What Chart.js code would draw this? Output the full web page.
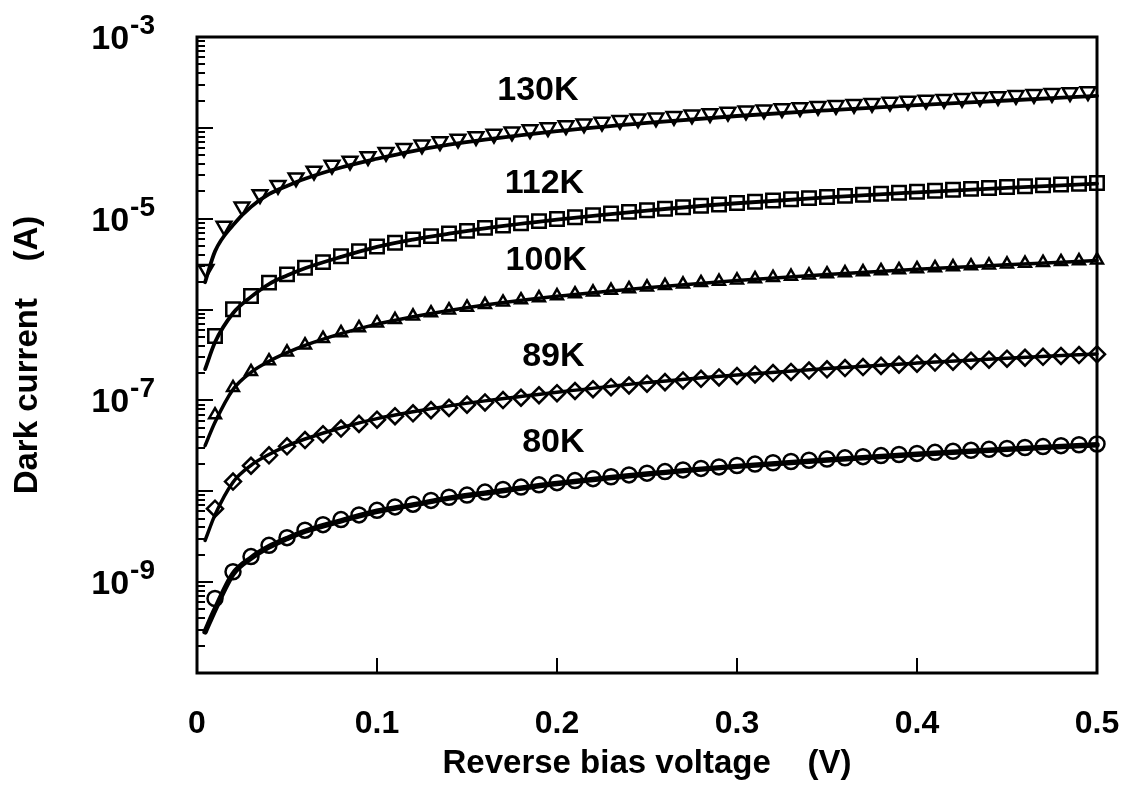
<!DOCTYPE html>
<html>
<head>
<meta charset="utf-8">
<script src="https://cdn.jsdelivr.net/npm/chart.js@4.4.1/dist/chart.umd.min.js"></script>
<style>
html,body{margin:0;padding:0;background:#fff;}
canvas{display:block;}
</style>
</head>
<body>
<canvas id="c" width="1129" height="788"></canvas>
<script>
// ---------------- data ----------------
const voltage130K = [0.005,0.015,0.025,0.035,0.045,0.055,0.065,0.075,0.085,0.095,
  0.105,0.115,0.125,0.135,0.145,0.155,0.165,0.175,0.185,0.195,
  0.205,0.215,0.225,0.235,0.245,0.255,0.265,0.275,0.285,0.295,
  0.305,0.315,0.325,0.335,0.345,0.355,0.365,0.375,0.385,0.395,
  0.405,0.415,0.425,0.435,0.445,0.455,0.465,0.475,0.485,0.495];
const voltage = [0.01,0.02,0.03,0.04,0.05,0.06,0.07,0.08,0.09,0.10,
  0.11,0.12,0.13,0.14,0.15,0.16,0.17,0.18,0.19,0.20,
  0.21,0.22,0.23,0.24,0.25,0.26,0.27,0.28,0.29,0.30,
  0.31,0.32,0.33,0.34,0.35,0.36,0.37,0.38,0.39,0.40,
  0.41,0.42,0.43,0.44,0.45,0.46,0.47,0.48,0.49,0.50];
const fitVoltage = [0.0045,0.01,0.02,0.03,0.04,0.05,0.06,0.08,0.10,0.12,0.14,0.16,0.20,0.25,0.30,0.35,0.40,0.45,0.50];

const current130K = [2.78e-6,8.3e-6,1.35e-5,1.85e-5,2.34e-5,2.83e-5,3.36e-5,3.90e-5,4.33e-5,4.84e-5,
  5.40e-5,5.95e-5,6.51e-5,7.06e-5,7.56e-5,8.05e-5,8.55e-5,9.06e-5,9.57e-5,1.007e-4,
  1.06e-4,1.11e-4,1.16e-4,1.21e-4,1.26e-4,1.29e-4,1.34e-4,1.39e-4,1.44e-4,1.49e-4,
  1.54e-4,1.58e-4,1.63e-4,1.68e-4,1.73e-4,1.77e-4,1.82e-4,1.87e-4,1.92e-4,1.97e-4,
  2.02e-4,2.07e-4,2.12e-4,2.17e-4,2.22e-4,2.28e-4,2.34e-4,2.40e-4,2.45e-4,2.51e-4];
const current112K = [5.13e-7,1.007e-6,1.41e-6,1.98e-6,2.44e-6,2.89e-6,3.33e-6,3.87e-6,4.40e-6,4.95e-6,
  5.43e-6,5.92e-6,6.43e-6,6.89e-6,7.35e-6,7.93e-6,8.42e-6,8.92e-6,9.41e-6,9.91e-6,
  1.040e-5,1.090e-5,1.139e-5,1.189e-5,1.239e-5,1.288e-5,1.338e-5,1.387e-5,1.437e-5,1.486e-5,
  1.536e-5,1.585e-5,1.635e-5,1.684e-5,1.734e-5,1.783e-5,1.833e-5,1.883e-5,1.932e-5,1.982e-5,
  2.031e-5,2.081e-5,2.130e-5,2.180e-5,2.229e-5,2.279e-5,2.328e-5,2.378e-5,2.427e-5,2.477e-5];
const current100K = [6.92e-8,1.38e-7,2.07e-7,2.72e-7,3.40e-7,4.07e-7,4.80e-7,5.56e-7,6.31e-7,7.11e-7,
  7.76e-7,8.47e-7,9.18e-7,9.89e-7,1.06e-6,1.135e-6,1.206e-6,1.276e-6,1.346e-6,1.416e-6,
  1.486e-6,1.556e-6,1.626e-6,1.694e-6,1.766e-6,1.837e-6,1.905e-6,1.977e-6,2.046e-6,2.113e-6,
  2.183e-6,2.254e-6,2.323e-6,2.393e-6,2.466e-6,2.535e-6,2.600e-6,2.673e-6,2.742e-6,2.812e-6,
  2.884e-6,2.951e-6,3.020e-6,3.090e-6,3.162e-6,3.228e-6,3.296e-6,3.365e-6,3.436e-6,3.508e-6];
const current89K = [6.43e-9,1.28e-8,1.91e-8,2.49e-8,3.13e-8,3.66e-8,4.25e-8,4.90e-8,5.52e-8,6.14e-8,
  6.71e-8,7.21e-8,7.82e-8,8.28e-8,8.99e-8,9.51e-8,1.01e-7,1.07e-7,1.14e-7,1.20e-7,
  1.27e-7,1.33e-7,1.40e-7,1.46e-7,1.53e-7,1.59e-7,1.66e-7,1.73e-7,1.79e-7,1.86e-7,
  1.93e-7,2.00e-7,2.06e-7,2.13e-7,2.20e-7,2.27e-7,2.33e-7,2.40e-7,2.47e-7,2.54e-7,
  2.61e-7,2.67e-7,2.74e-7,2.81e-7,2.88e-7,2.95e-7,3.02e-7,3.09e-7,3.16e-7,3.23e-7];
const current80K = [6.61e-10,1.30e-9,1.91e-9,2.54e-9,3.09e-9,3.73e-9,4.29e-9,4.88e-9,5.50e-9,6.17e-9,
  6.73e-9,7.21e-9,7.94e-9,8.59e-9,9.08e-9,9.79e-9,1.047e-8,1.112e-8,1.178e-8,1.245e-8,
  1.312e-8,1.378e-8,1.445e-8,1.514e-8,1.582e-8,1.648e-8,1.718e-8,1.786e-8,1.854e-8,1.923e-8,
  1.991e-8,2.061e-8,2.128e-8,2.198e-8,2.265e-8,2.333e-8,2.404e-8,2.472e-8,2.541e-8,2.612e-8,
  2.685e-8,2.754e-8,2.825e-8,2.897e-8,2.965e-8,3.034e-8,3.105e-8,3.177e-8,3.251e-8,3.319e-8];

const fit130K = [2.0e-6,4.37e-6,8.5e-6,1.35e-5,1.86e-5,2.29e-5,2.75e-5,3.66e-5,4.57e-5,5.56e-5,6.52e-5,7.40e-5,9.2e-5,1.135e-4,1.35e-4,1.56e-4,1.78e-4,2.0e-4,2.25e-4];
const fit112K = [2.21e-7,4.37e-7,9.12e-7,1.38e-6,1.91e-6,2.37e-6,2.85e-6,3.80e-6,4.90e-6,5.89e-6,6.84e-6,7.85e-6,9.77e-6,1.23e-5,1.48e-5,1.72e-5,1.95e-5,2.19e-5,2.43e-5];
const fit100K = [3.18e-8,5.75e-8,1.32e-7,2.04e-7,2.69e-7,3.35e-7,4.03e-7,5.43e-7,6.92e-7,8.32e-7,9.77e-7,1.122e-6,1.40e-6,1.74e-6,2.09e-6,2.43e-6,2.77e-6,3.11e-6,3.47e-6];
const fit89K = [2.88e-9,5.5e-9,1.26e-8,1.93e-8,2.54e-8,3.16e-8,3.76e-8,5.01e-8,6.31e-8,7.50e-8,8.71e-8,9.89e-8,1.23e-7,1.57e-7,1.91e-7,2.25e-7,2.58e-7,2.92e-7,3.25e-7];
const fit80K = [2.84e-10,5.0e-10,1.23e-9,1.84e-9,2.45e-9,3.02e-9,3.63e-9,4.73e-9,6.03e-9,7.08e-9,8.41e-9,9.55e-9,1.216e-8,1.55e-8,1.88e-8,2.21e-8,2.55e-8,2.90e-8,3.25e-8];

const temperatures = ['130K','112K','100K','89K','80K'];
const xTickValues = [0, 0.1, 0.2, 0.3, 0.4, 0.5];
const yLabelExponents = [-3, -5, -7, -9];
const yRange = [1e-10, 1e-3];

// ---------------- chart ----------------
const FONT = "'Liberation Sans', Arial, Helvetica, sans-serif";

const seriesDefs = [
  {name: temperatures[0], xs: voltage130K, ys: current130K, fit: fit130K, style: 'triangle', rot: 180, r: 8.5, lw: 3.8, lx: 0.1894, ly: 2.55e-4},
  {name: temperatures[1], xs: voltage, ys: current112K, fit: fit112K, style: 'rect', rot: 0, r: 9.5, lw: 3.8, lx: 0.193, ly: 2.43e-5},
  {name: temperatures[2], xs: voltage, ys: current100K, fit: fit100K, style: 'triangle', rot: 0, r: 6.8, lw: 3.5, lx: 0.194, ly: 3.48e-6},
  {name: temperatures[3], xs: voltage, ys: current89K, fit: fit89K, style: 'rectRot', rot: 0, r: 8, lw: 3.5, lx: 0.198, ly: 3.03e-7},
  {name: temperatures[4], xs: voltage, ys: current80K, fit: fit80K, style: 'circle', rot: 0, r: 7.5, lw: 5.5, lx: 0.198, ly: 3.40e-8}
];

const datasets = [];
seriesDefs.forEach(s => {
  datasets.push({
    label: s.name,
    data: s.xs.map((v, i) => ({x: v, y: s.ys[i]})),
    showLine: false,
    pointStyle: s.style,
    pointRotation: s.rot,
    pointRadius: s.r,
    pointHoverRadius: s.r,
    pointBorderWidth: 2.5,
    pointBorderColor: '#000',
    pointBackgroundColor: 'rgba(0,0,0,0)',
    borderColor: '#000',
    clip: false,
    order: 2
  });
  datasets.push({
    label: s.name + ' fit',
    data: fitVoltage.map((v, i) => ({x: v, y: s.fit[i]})),
    showLine: true,
    pointRadius: 0,
    borderColor: '#000',
    borderWidth: s.lw,
    borderCapStyle: 'round',
    borderJoinStyle: 'round',
    cubicInterpolationMode: 'monotone',
    fill: false,
    clip: false,
    order: 1
  });
});

const framePlugin = {
  id: 'framePlugin',
  afterDraw(chart) {
    const {ctx, chartArea: a, scales: {x, y}} = chart;
    ctx.save();
    ctx.strokeStyle = '#000';
    ctx.lineCap = 'butt';
    // y minor/major ticks (inside, left)
    ctx.lineWidth = 2;
    for (let e = -10; e < -3; e++) {
      for (let n = 1; n <= 9; n++) {
        const py = Math.round(y.getPixelForValue(n * Math.pow(10, e)));
        const len = n === 1 ? 16 : 8;
        ctx.beginPath();
        ctx.moveTo(a.left, py);
        ctx.lineTo(a.left + len, py);
        ctx.stroke();
      }
    }
    // x ticks (inside, bottom)
    xTickValues.forEach(v => {
      if (v <= 0 || v >= 0.5) return;
      const px = Math.round(x.getPixelForValue(v));
      ctx.beginPath();
      ctx.moveTo(px, a.bottom);
      ctx.lineTo(px, a.bottom - 15);
      ctx.stroke();
    });
    // frame
    ctx.lineWidth = 3;
    ctx.strokeRect(a.left, a.top, a.right - a.left, a.bottom - a.top);
    // y tick labels with superscripts
    ctx.fillStyle = '#000';
    ctx.textAlign = 'right';
    ctx.textBaseline = 'alphabetic';
    const right = a.left - 42;
    yLabelExponents.forEach(e => {
      const py = y.getPixelForValue(Math.pow(10, e));
      const sup = String(e);
      ctx.font = `bold 28px ${FONT}`;
      const supW = ctx.measureText(sup).width;
      ctx.fillText(sup, right, py - 3);
      ctx.font = `bold 34px ${FONT}`;
      ctx.fillText('10', right - supW - 1, py + 12);
    });
    // temperature labels
    ctx.textAlign = 'center';
    ctx.textBaseline = 'middle';
    ctx.font = `bold 34px ${FONT}`;
    seriesDefs.forEach(s => {
      ctx.fillText(s.name, x.getPixelForValue(s.lx), y.getPixelForValue(s.ly));
    });
    ctx.restore();
  }
};

new Chart(document.getElementById('c'), {
  type: 'line',
  data: {datasets},
  options: {
    responsive: false,
    animation: false,
    devicePixelRatio: 1,
    layout: {padding: {top: 37, right: 32, left: 0, bottom: 0}},
    plugins: {legend: {display: false}, tooltip: {enabled: false}},
    elements: {line: {tension: 0}},
    scales: {
      x: {
        type: 'linear',
        min: 0, max: 0.5,
        afterBuildTicks: s => { s.ticks = xTickValues.map(v => ({value: v})); },
        afterFit: s => { s.height = 115; s.paddingLeft = 0; s.paddingRight = 0; },
        grid: {display: false, drawTicks: false},
        border: {display: false},
        ticks: {
          color: '#000',
          font: {family: FONT, size: 32, weight: 'bold'},
          padding: 32,
          maxRotation: 0,
          autoSkip: false,
          callback: v => String(v)
        },
        title: {
          display: true,
          text: 'Reverse bias voltage    (V)',
          color: '#000',
          font: {family: FONT, size: 33, weight: 'bold'},
          padding: {top: 0, bottom: 4}
        }
      },
      y: {
        type: 'logarithmic',
        min: yRange[0], max: yRange[1],
        afterFit: s => { s.width = 197; s.paddingTop = 0; s.paddingBottom = 0; },
        grid: {display: false, drawTicks: false},
        border: {display: false},
        ticks: {display: false},
        title: {
          display: true,
          text: 'Dark current    (A)',
          color: '#000',
          font: {family: FONT, size: 33, weight: 'bold'},
          padding: {top: 8, bottom: 0}
        }
      }
    }
  },
  plugins: [framePlugin]
});
</script>
</body>
</html>
